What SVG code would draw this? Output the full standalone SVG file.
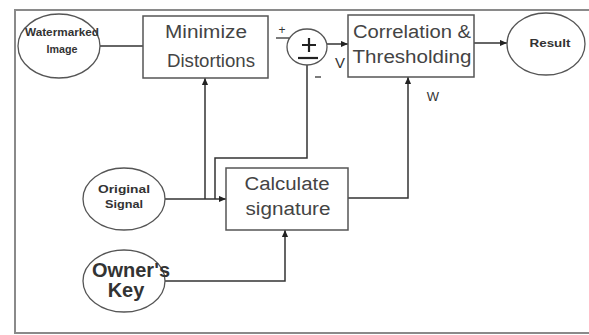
<svg xmlns="http://www.w3.org/2000/svg" width="589" height="335" viewBox="0 0 589 335">
<style>
.frame{fill:none;stroke:#8a8a8a;stroke-width:2}
.box{fill:#fff;stroke:#555;stroke-width:1.5}
.ell{fill:#fff;stroke:#555;stroke-width:1.3}
.big{font-family:"Liberation Sans",Arial,sans-serif;font-size:18px;fill:#444;text-anchor:middle}
.sm{font-family:"Liberation Sans",Arial,sans-serif;font-weight:bold;fill:#333;text-anchor:middle}
.lbl{font-family:"Liberation Sans",Arial,sans-serif;fill:#333;text-anchor:middle}
.conn{fill:none;stroke:#333;stroke-width:1.5}
</style>
<defs>
<marker id="ah" viewBox="0 0 8 8" refX="8" refY="4" markerWidth="7" markerHeight="7" markerUnits="userSpaceOnUse" orient="auto">
<path d="M0,0.5 L8,4 L0,7.5 Z" fill="#222"/>
</marker>
</defs>
<rect width="589" height="335" fill="#fff"/>
<path class="frame" d="M600,10 H15 V333 H600"/>
<g id="connectors">
<path class="conn" d="M100,46 H143"/>
<path class="conn" marker-end="url(#ah)" d="M327,44 H348"/>
<path class="conn" marker-end="url(#ah)" d="M474,43 H507"/>
<path class="conn" marker-end="url(#ah)" d="M165,199 H226"/>
<path class="conn" marker-end="url(#ah)" d="M205,199 V78"/>
<path class="conn" d="M307,65 V158 H215 V199"/>
<path class="conn" marker-end="url(#ah)" d="M348,198 H408 V77"/>
<path class="conn" marker-end="url(#ah)" d="M165,281 H285 V230"/>
</g>
<g id="watermarked">
<ellipse class="ell" cx="59" cy="46" rx="41" ry="32"/>
<text class="sm" x="62" y="36" font-size="10" textLength="74" lengthAdjust="spacingAndGlyphs">Watermarked</text>
<text class="sm" x="62" y="53" font-size="10" textLength="31" lengthAdjust="spacingAndGlyphs">Image</text>
</g>
<g id="minimize">
<rect class="box" x="143" y="16" width="125" height="62"/>
<text class="big" x="206" y="38" textLength="82" lengthAdjust="spacingAndGlyphs">Minimize</text>
<text class="big" x="211" y="67" textLength="88" lengthAdjust="spacingAndGlyphs">Distortions</text>
</g>
<g id="sum">
<ellipse class="ell" cx="307" cy="47" rx="20" ry="18" stroke="#333" stroke-width="1.6"/>
<path d="M302,45 H316 M309,38 V52" stroke="#222" stroke-width="2.2" fill="none"/>
<path d="M298,58 H318" stroke="#222" stroke-width="2.2" fill="none"/>
<text class="lbl" x="282" y="34" font-size="12">+</text>
<path d="M276,38 H289" stroke="#333" stroke-width="1.3"/>
<text class="lbl" x="340" y="68" font-size="15">V</text>
<path d="M315,77 H321" stroke="#333" stroke-width="1.3"/>
</g>
<g id="correlation">
<rect class="box" x="348" y="15" width="126" height="62"/>
<text class="big" x="412" y="38" textLength="118" lengthAdjust="spacingAndGlyphs">Correlation &amp;</text>
<text class="big" x="412" y="63" textLength="119" lengthAdjust="spacingAndGlyphs">Thresholding</text>
<text class="lbl" x="433" y="101" font-size="13">W</text>
</g>
<g id="result">
<ellipse class="ell" cx="546" cy="44" rx="39" ry="31"/>
<text class="sm" x="550" y="47" font-size="11" textLength="41" lengthAdjust="spacingAndGlyphs">Result</text>
</g>
<g id="original">
<ellipse class="ell" cx="124" cy="199" rx="41" ry="31"/>
<text class="sm" x="124" y="193" font-size="11" textLength="52" lengthAdjust="spacingAndGlyphs">Original</text>
<text class="sm" x="124" y="208" font-size="11" textLength="38" lengthAdjust="spacingAndGlyphs">Signal</text>
</g>
<g id="calculate">
<rect class="box" x="226" y="168" width="122" height="62"/>
<text class="big" x="287" y="190" textLength="85" lengthAdjust="spacingAndGlyphs">Calculate</text>
<text class="big" x="288" y="215" textLength="85" lengthAdjust="spacingAndGlyphs">signature</text>
</g>
<g id="owner">
<ellipse class="ell" cx="124" cy="281" rx="41" ry="31"/>
<text class="sm" x="131" y="277" font-size="20" fill="#111" textLength="78" lengthAdjust="spacingAndGlyphs">Owner's</text>
<text class="sm" x="126" y="297" font-size="20" fill="#111">Key</text>
</g>
</svg>
